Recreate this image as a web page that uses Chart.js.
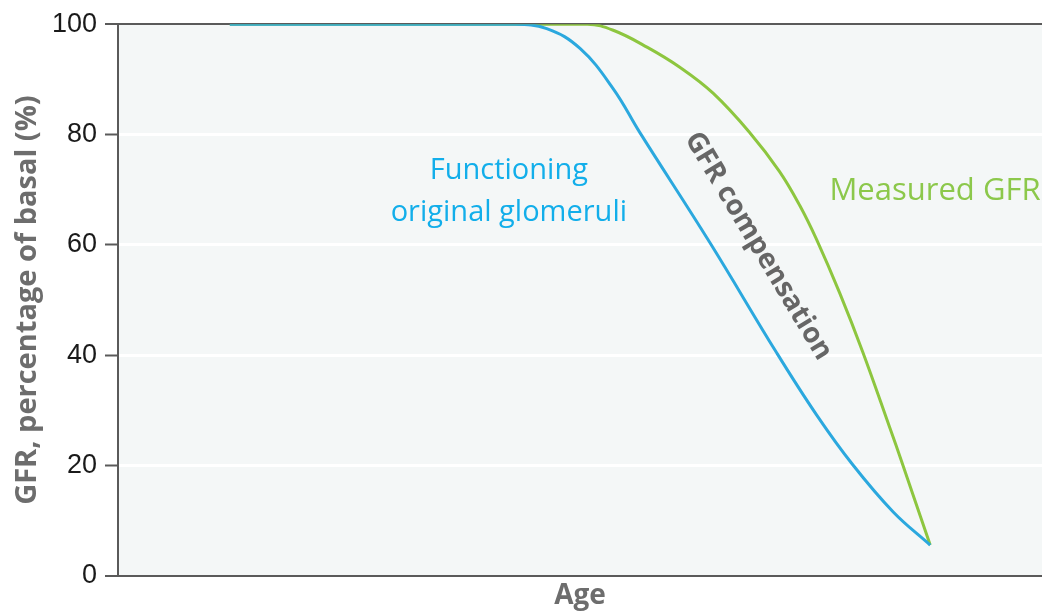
<!DOCTYPE html>
<html>
<head>
<meta charset="utf-8">
<script src="https://cdn.jsdelivr.net/npm/chart.js@4.4.0/dist/chart.umd.min.js"></script>
<style>
  html, body { margin: 0; padding: 0; background: #ffffff; }
  #wrap { width: 1042px; height: 613px; position: relative; }
</style>
</head>
<body>
<div id="wrap"><canvas id="c" width="1042" height="613"></canvas></div>
<script>
// ---- data ----
const yTicks = [0, 20, 40, 60, 80, 100];

const originalAge = [12.1, 42.7, 46.4, 50.0, 53.6, 56.5, 64.1, 71.3, 75.6, 79.5, 83.9, 87.9];
const originalGFR = [100, 100, 99.2, 95.6, 88.3, 80.3, 60.3, 40.4, 29.2, 20.2, 11.6, 5.6];

const measuredAge = [12.1, 50.8, 53.6, 57.3, 60.8, 64.4, 68.4, 71.6, 73.8, 75.6, 78.1, 80.6, 83.5, 84.8, 87.9];
const measuredGFR = [100, 100, 98.9, 95.8, 92.2, 87.5, 80.3, 73.3, 67.1, 61.0, 51.3, 40.6, 27.0, 20.8, 5.6];

const labelFunctioning = ['Functioning', 'original glomeruli'];
const labelMeasured = 'Measured GFR';
const labelCompensation = 'GFR compensation';

// ---- build ----
const toPts = (xs, ys) => xs.map((x, i) => ({ x: x, y: ys[i] }));

const bgPlugin = {
  id: 'plotBg',
  beforeDraw(chart) {
    const { ctx, chartArea: a } = chart;
    ctx.save();
    ctx.fillStyle = '#f4f7f7';
    ctx.fillRect(a.left, a.top, a.right - a.left, a.bottom - a.top);
    ctx.restore();
  }
};

const textPlugin = {
  id: 'annotText',
  afterDatasetsDraw(chart) {
    const { ctx, scales: { x, y } } = chart;
    ctx.save();
    ctx.textBaseline = 'middle';
    // Functioning original glomeruli
    ctx.font = '29px "Open Sans"';
    ctx.fillStyle = '#12aeea';
    ctx.textAlign = 'center';
    ctx.fillText(labelFunctioning[0], x.getPixelForValue(42.3), y.getPixelForValue(73.4));
    ctx.fillText(labelFunctioning[1], x.getPixelForValue(42.3), y.getPixelForValue(65.8));
    // Measured GFR
    ctx.font = '31px "Open Sans"';
    ctx.fillStyle = '#8cc84b';
    ctx.textAlign = 'left';
    ctx.fillText(labelMeasured, x.getPixelForValue(77.0), y.getPixelForValue(69.8));
    // GFR compensation (rotated)
    ctx.translate(x.getPixelForValue(69.3), y.getPixelForValue(59.8));
    ctx.rotate(59 * Math.PI / 180);
    ctx.font = 'bold 28px "Open Sans"';
    ctx.fillStyle = '#666666';
    ctx.textAlign = 'center';
    ctx.fillText(labelCompensation, 0, 0);
    ctx.restore();
  }
};

const darkAxis = '#5a5a5a';

new Chart(document.getElementById('c'), {
  type: 'line',
  data: {
    datasets: [
      {
        label: 'Functioning original glomeruli',
        data: toPts(originalAge, originalGFR),
        borderColor: '#2ba8de',
        borderWidth: 3,
        pointRadius: 0,
        tension: 0.4,
        fill: false
      },
      {
        label: 'Measured GFR',
        data: toPts(measuredAge, measuredGFR),
        borderColor: '#8dc63f',
        borderWidth: 3,
        pointRadius: 0,
        tension: 0.4,
        fill: false
      }
    ]
  },
  options: {
    responsive: false,
    animation: false,
    devicePixelRatio: 1,
    layout: { padding: { top: 24, right: 0, left: 0, bottom: 0 } },
    plugins: { legend: { display: false }, tooltip: { enabled: false } },
    scales: {
      x: {
        type: 'linear',
        min: 0,
        max: 100,
        ticks: { display: false },
        grid: { display: false },
        border: { display: true, color: darkAxis, width: 2 },
        title: {
          display: true,
          text: 'Age',
          color: '#6d6d6d',
          font: { family: '"Open Sans"', size: 28, weight: 'bold' },
          padding: { top: 0, bottom: 0 }
        },
        afterFit(s) { s.height = 37; }
      },
      y: {
        min: 0,
        max: 100,
        afterBuildTicks(s) { s.ticks = yTicks.map(v => ({ value: v })); },
        ticks: {
          color: '#1a1a1a',
          font: { family: '"Liberation Sans", Arial', size: 27 },
          padding: 8
        },
        grid: {
          color: c => (c.tick && (c.tick.value === 100 || c.tick.value === 0)) ? darkAxis : '#ffffff',
          lineWidth: c => (c.tick && (c.tick.value === 100 || c.tick.value === 0)) ? 2 : 3,
          tickColor: darkAxis,
          tickLength: 13,
          tickWidth: 2,
          drawTicks: true
        },
        border: { display: true, color: darkAxis, width: 2 },
        title: {
          display: true,
          text: 'GFR, percentage of basal (%)',
          color: '#6d6d6d',
          font: { family: '"Open Sans"', size: 29, weight: 'bold' },
          padding: { top: 10, bottom: 0 }
        },
        afterFit(s) { s.width = 118; }
      }
    }
  },
  plugins: [bgPlugin, textPlugin]
});
</script>
</body>
</html>
